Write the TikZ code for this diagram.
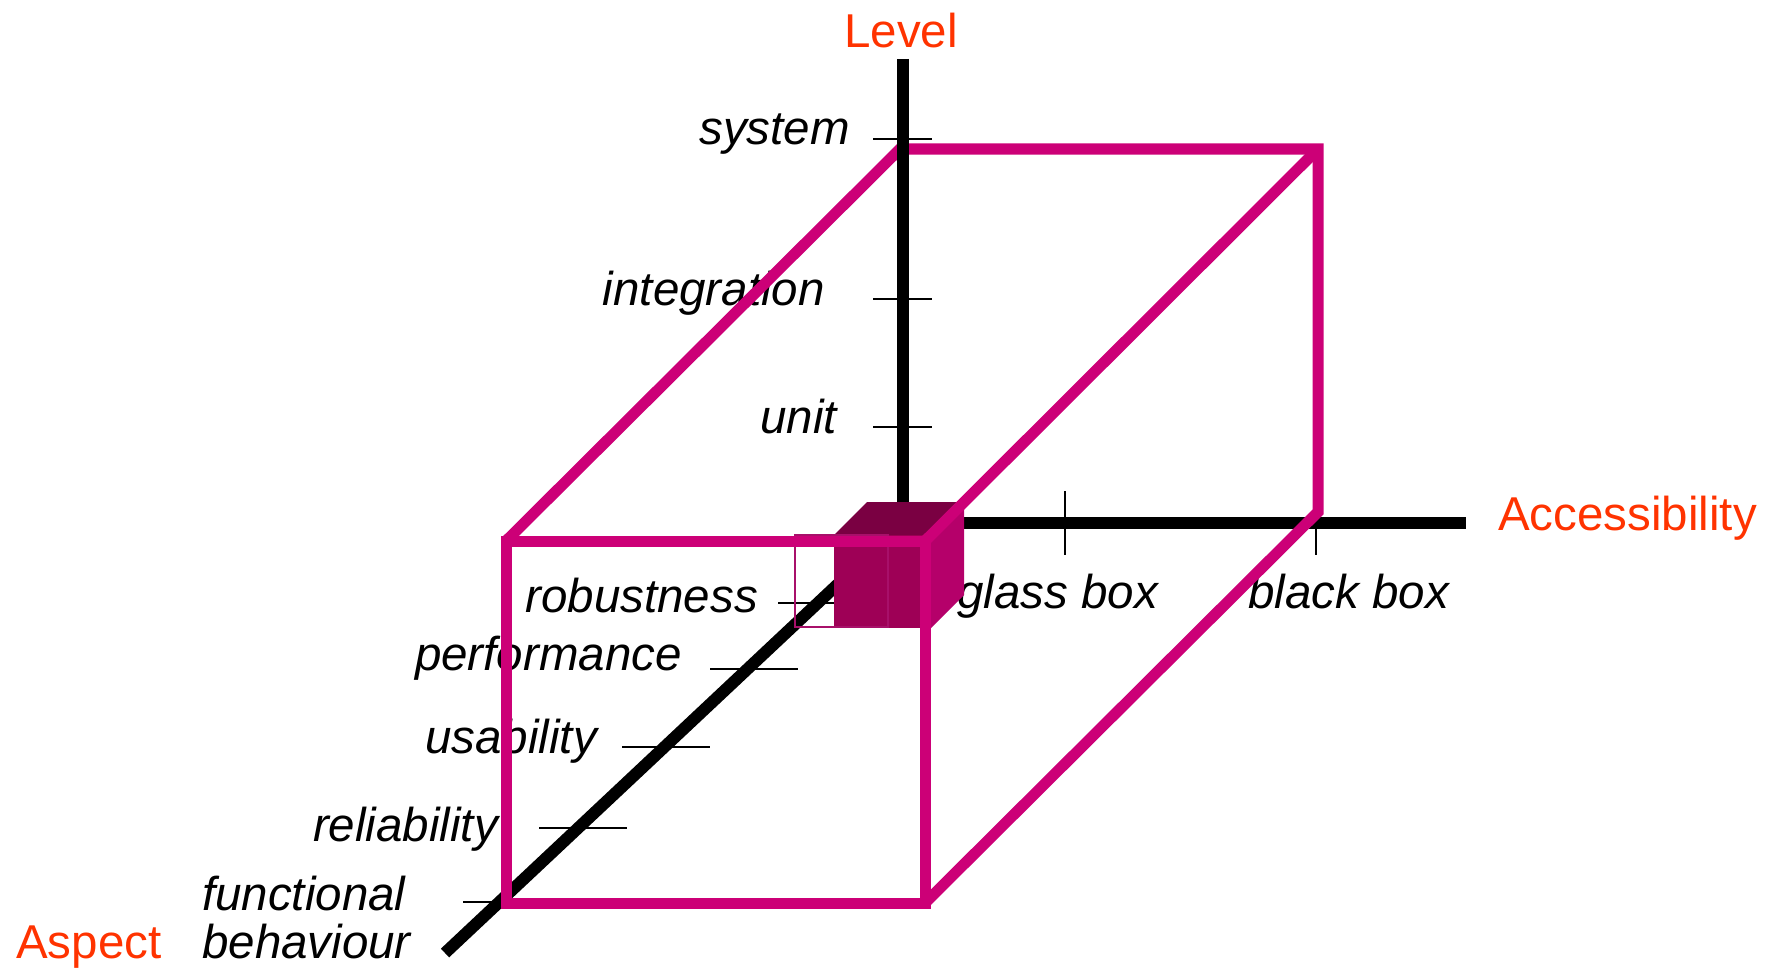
\documentclass[tikz,border=0pt]{standalone}
\usepackage{fontspec}
\setmainfont{Liberation Sans}
\usepackage{xcolor}
\definecolor{cBox}{HTML}{CC0077}
\definecolor{cName}{HTML}{FF3300}
\definecolor{cCubeTop}{HTML}{7A0042}
\definecolor{cCubeFront}{HTML}{9E0056}
\definecolor{cCubeSide}{HTML}{B5006A}
\definecolor{cFrame}{HTML}{A8106A}
\usepackage{tikz}
\usetikzlibrary{positioning,calc}
\tikzset{
  axis-line/.style={line width=12pt,draw=black},
  tick-line/.style={line width=2.5pt,draw=black},
  box-edge/.style={line width=11pt,draw=cBox,line join=miter},
  frame-edge/.style={line width=2.5pt,draw=cFrame},
  tick-label/.style={font=\fontsize{47.5}{57}\selectfont\itshape,inner sep=0pt},
  axis-name/.style={font=\fontsize{47.5}{57}\selectfont,text=cName,inner sep=0pt},
}

\begin{document}
\begin{tikzpicture}[x=1pt,y=-1pt]
  \useasboundingbox (0,0) rectangle (1777,971);
  \coordinate (o) at (903,523);
  \coordinate (level-end) at (903,59);
  \coordinate (level-cut) at (903,502);
  \coordinate (acc-end) at (1466,523);
  \coordinate (asp-end) at (445,953);
  % axes below the box
  \draw[axis-line] (o) -- (acc-end);
  \draw[axis-line] (o) -- (asp-end);
  \foreach \y in {139,299,427}
    \draw[tick-line] (873,\y) -- ++(59,0);
  \foreach \x/\y/\l in {778/603/88,710/669/88,622/747/88,539/828/88,463/902/40}
    \draw[tick-line] (\x,\y) -- ++(\l,0);
  \draw[tick-line] (1065,491) -- (1065,555);
  \draw[tick-line] (1316,491) -- (1316,555);
  % labels
  \node[axis-name,anchor=base] (level) at (901,48) {Level};
  \node[axis-name,anchor=base west] (access) at (1498,530) {Accessibility};
  \node[axis-name,anchor=base west] (aspect) at (16,958) {Aspect};
  \node[tick-label,anchor=base east] (system) at (850,145) {system};
  \node[tick-label,anchor=base east] (integr) at (825,305) {integration};
  \node[tick-label,anchor=base east] (unit) at (837,433) {unit};
  \node[tick-label,anchor=base west] (glass) at (957,608) {glass box};
  \node[tick-label,anchor=base west] (black) at (1248,608) {black box};
  \node[tick-label,anchor=base east] (robust) at (758,612) {robustness};
  \node[tick-label,anchor=base east] (perf) at (682,670) {performance};
  \node[tick-label,anchor=base east] (usab) at (597,753) {usability};
  \node[tick-label,anchor=base east] (reliab) at (498,841) {reliability};
  \node[tick-label,anchor=base west] (funct) at (202,910) {functional};
  \node[tick-label,anchor=base west] (behav) at (202,958) {behaviour};
  % small cube at the origin
  \fill[cCubeFront] (834,535) rectangle (931,628);
  \fill[cCubeTop] (834,535) -- (867,502) -- (964,502) -- (931,535) -- cycle;
  \fill[cCubeSide] (931,535) -- (964,502) -- (964,595) -- (931,628) -- cycle;
  \draw[frame-edge] (795,535) rectangle (888,627);
  % big box
  \coordinate (f-tl) at (506,541);
  \coordinate (f-tr) at (925,541);
  \coordinate (f-br) at (925,903);
  \coordinate (b-tl) at (900,149);
  \coordinate (b-tr) at (1318,149);
  \coordinate (b-br) at (1318,512);
  \draw[box-edge] (f-tl) rectangle (f-br);
  \draw[box-edge] (f-tl) -- (b-tl) -- (b-tr) -- (b-br) -- (f-br);
  \draw[box-edge] (f-tr) -- (b-tr);
  \draw[axis-line] (level-end) -- (level-cut);
  \draw[tick-line] (873,139) -- ++(59,0);
\end{tikzpicture}
\end{document}
